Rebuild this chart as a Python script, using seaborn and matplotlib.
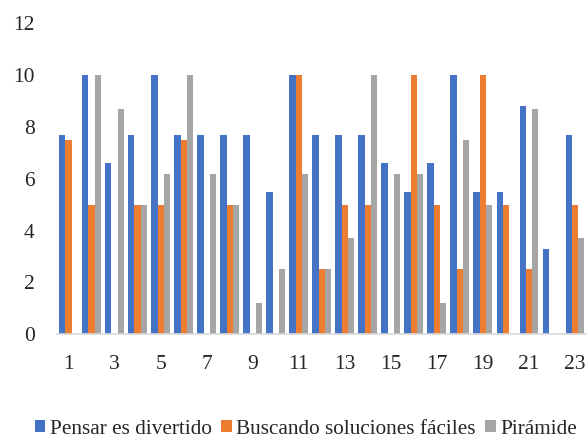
import pandas as pd
import numpy as np
import seaborn as sns
import matplotlib.pyplot as plt

# datos
categorias = [str(i) for i in range(1, 24)]
pensar = [7.7, 10, 6.6, 7.7, 10, 7.7, 7.7, 7.7, 7.7, 5.5, 10, 7.7,
          7.7, 7.7, 6.6, 5.5, 6.6, 10, 5.5, 5.5, 8.8, 3.3, 7.7]
buscando = [7.5, 5, 0, 5, 5, 7.5, 0, 5, 0, 0, 10, 2.5,
            5, 5, 0, 10, 5, 2.5, 10, 5, 2.5, 0, 5]
piramide = [0, 10, 8.7, 5, 6.2, 10, 6.2, 5, 1.2, 2.5, 6.2, 2.5,
            3.7, 10, 6.2, 6.2, 1.2, 7.5, 5, 0, 8.7, 0, 3.7]
series = ['Pensar es divertido', 'Buscando soluciones fáciles', 'Pirámide']
colores = ['#4472C4', '#ED7D31', '#A5A5A5']

df = pd.DataFrame({'Categoria': categorias * 3,
                   'Valor': pensar + buscando + piramide,
                   'Serie': [series[0]] * 23 + [series[1]] * 23 + [series[2]] * 23})

sns.set_style('white')
plt.rcParams['font.family'] = ['Liberation Serif', 'DejaVu Serif']

fig = plt.figure(figsize=(5.88, 4.38), dpi=100)
ax = fig.add_axes([0.097, 0.237, 0.9, 0.71])

sns.barplot(x='Categoria', y='Valor', hue='Serie', data=df, order=categorias,
            hue_order=series, palette=colores, width=0.8, saturation=1,
            linewidth=0, ax=ax)

ax.set_xlim(-0.5, 22.5)
ax.set_ylim(0, 12)
ax.set_yticks(range(0, 13, 2))
ax.set_yticklabels([str(v) for v in range(0, 13, 2)], family='Liberation Serif', fontsize=15.5)
ax.set_xticks(range(0, 23, 2))
ax.set_xticklabels(categorias[::2], family='Liberation Serif', fontsize=15.5)
ax.tick_params(axis='both', length=0)
ax.tick_params(axis='x', pad=15)
ax.tick_params(axis='y', pad=16)
ax.set_xlabel('')
ax.set_ylabel('')
for lado in ['top', 'right', 'left']:
    ax.spines[lado].set_visible(False)
ax.spines['bottom'].set_color('#D9D9D9')
ax.spines['bottom'].set_linewidth(1.2)

leg = ax.legend(loc='center', bbox_to_anchor=(0.52, 0.02), bbox_transform=fig.transFigure,
                ncol=3, frameon=False, handlelength=0.5, handleheight=0.5,
                handletextpad=0.2, columnspacing=0.45, borderaxespad=0,
                prop={'family': 'Liberation Serif', 'size': 15.3})

plt.savefig('out.png', dpi=100)
